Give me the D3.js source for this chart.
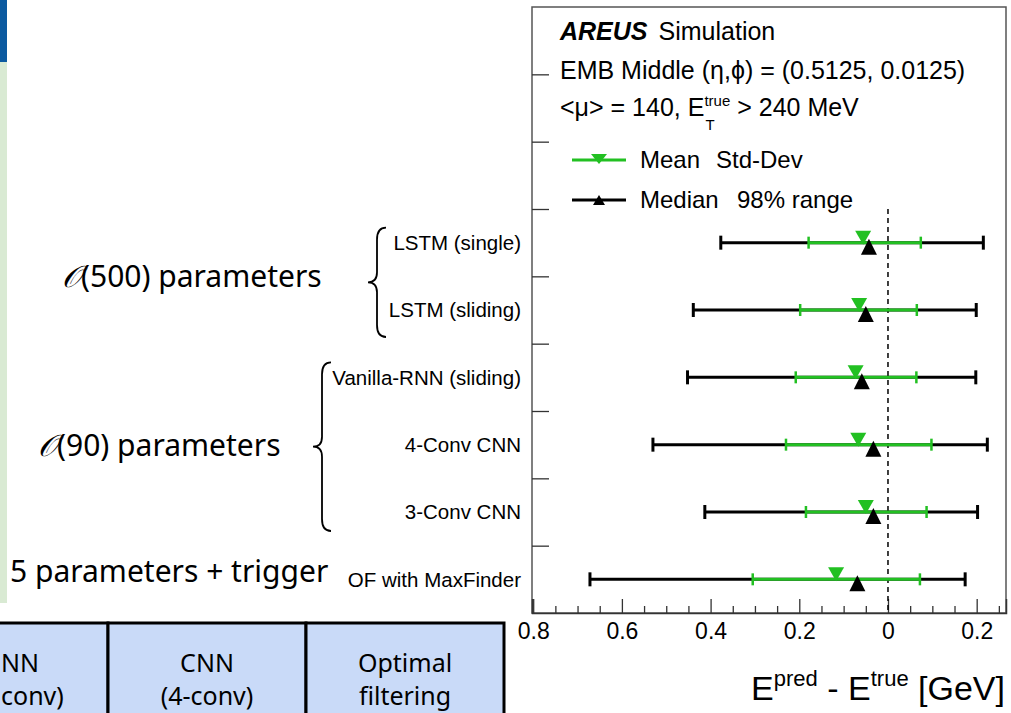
<!DOCTYPE html>
<html><head><meta charset="utf-8">
<script src="https://cdn.jsdelivr.net/npm/d3@7"></script>
<style>body{margin:0;background:#fff;}svg{display:block;}</style>
</head><body>
<script>
// ---- data ----
const categories = ["LSTM (single)", "LSTM (sliding)", "Vanilla-RNN (sliding)", "4-Conv CNN", "3-Conv CNN", "OF with MaxFinder"];
const meanVals   = [-0.056, -0.065, -0.073, -0.067, -0.050, -0.117];
const stdLow     = [-0.179, -0.198, -0.208, -0.230, -0.185, -0.305];
const stdHigh    = [ 0.074,  0.065,  0.064,  0.098,  0.087,  0.072];
const medianVals = [-0.043, -0.050, -0.059, -0.033, -0.033, -0.069];
const rangeLow   = [-0.377, -0.439, -0.452, -0.530, -0.413, -0.672];
const rangeHigh  = [ 0.215,  0.199,  0.198,  0.224,  0.202,  0.174];
const xTickValues = [-0.8, -0.6, -0.4, -0.2, 0, 0.2];
const xTickLabels = ["0.8", "0.6", "0.4", "0.2", "0", "0.2"];
const groupLabels = ["(500) parameters", "(90) parameters", "5 parameters + trigger"];
const tableCols = [["NN", "conv)"], ["CNN", "(4-conv)"], ["Optimal", "filtering"]];

const W = 1011, H = 713;
const svg = d3.select("body").append("svg").attr("width", W).attr("height", H);

// slide background pieces
svg.append("rect").attr("x", 0).attr("y", 0).attr("width", 7).attr("height", 62).attr("fill", "#0b5aa0");
svg.append("rect").attr("x", 0).attr("y", 62).attr("width", 7).attr("height", 541).attr("fill", "#d9ead3");

const L = 532, R = 1006, T = 7, B = 613;
const x = d3.scaleLinear().domain([-0.8027, 0.2661]).range([L, R]);
const y = d3.scaleLinear().domain([0, 9]).range([B, T]);
const rowY = i => y(5.5 - i);

const AR = "'Liberation Sans', Arial, sans-serif";
const SL = "'Noto Sans', 'Open Sans', sans-serif";
const green = "#22c022";

// frame
svg.append("rect").attr("x", L).attr("y", T).attr("width", R - L).attr("height", B - T)
  .attr("fill", "none").attr("stroke", "#555").attr("stroke-width", 1.5);

// y ticks (inward)
const yAxis = d3.axisLeft(y).tickValues(d3.range(1, 9)).tickSize(-17).tickFormat("");
const gy = svg.append("g").attr("transform", `translate(${L},0)`).call(yAxis);
gy.select(".domain").remove();
gy.selectAll("line").attr("stroke", "#333").attr("stroke-width", 1.3);

// x axis: minor + major ticks inward
const minorVals = d3.range(-16, 6).map(k => k * 0.05).filter(v => xTickValues.every(t => Math.abs(t - v) > 1e-6));
const gxm = svg.append("g").attr("transform", `translate(0,${B})`)
  .call(d3.axisBottom(x).tickValues(minorVals).tickSize(-7).tickFormat(""));
gxm.select(".domain").remove();
gxm.selectAll("line").attr("stroke", "#333").attr("stroke-width", 1.3);
const gx = svg.append("g").attr("transform", `translate(0,${B})`)
  .call(d3.axisBottom(x).tickValues(xTickValues).tickSize(-14).tickPadding(10)
    .tickFormat((d, i) => xTickLabels[i]));
gx.select(".domain").attr("stroke", "#333").attr("stroke-width", 1.5);
gx.selectAll("line").attr("stroke", "#333").attr("stroke-width", 1.3);
gx.selectAll("text").attr("font-family", AR).attr("font-size", 23).attr("fill", "#000");

// dashed zero line
svg.append("line").attr("x1", x(0)).attr("x2", x(0)).attr("y1", y(6)).attr("y2", B)
  .attr("stroke", "#000").attr("stroke-width", 1.5).attr("stroke-dasharray", "5,4");

// error bars
const rows = categories.map((c, i) => ({c, i}));
const g = svg.append("g");
rows.forEach(({i}) => {
  const yy = rowY(i);
  g.append("line").attr("x1", x(rangeLow[i])).attr("x2", x(rangeHigh[i])).attr("y1", yy).attr("y2", yy)
    .attr("stroke", "#000").attr("stroke-width", 3);
  [rangeLow[i], rangeHigh[i]].forEach(v => g.append("line").attr("x1", x(v)).attr("x2", x(v))
    .attr("y1", yy - 7).attr("y2", yy + 7).attr("stroke", "#000").attr("stroke-width", 3));
  g.append("line").attr("x1", x(stdLow[i])).attr("x2", x(stdHigh[i])).attr("y1", yy).attr("y2", yy)
    .attr("stroke", green).attr("stroke-width", 3);
  [stdLow[i], stdHigh[i]].forEach(v => g.append("line").attr("x1", x(v)).attr("x2", x(v))
    .attr("y1", yy - 6).attr("y2", yy + 6).attr("stroke", green).attr("stroke-width", 2.5));
  const mx = x(meanVals[i]);
  g.append("path").attr("d", `M${mx-8},${yy-12}L${mx+8},${yy-12}L${mx},${yy+2}Z`).attr("fill", green);
  const kx = x(medianVals[i]);
  g.append("path").attr("d", `M${kx-8},${yy+12}L${kx+8},${yy+12}L${kx},${yy-4}Z`).attr("fill", "#000");
});

// category labels
rows.forEach(({c, i}) => {
  svg.append("text").attr("x", 521).attr("y", rowY(i)).attr("dy", "0.35em")
    .attr("text-anchor", "end").attr("font-family", AR).attr("font-size", 20.5).text(c);
});

// header text
const HF = 25;
const t1 = svg.append("text").attr("x", 560).attr("y", 40).attr("font-family", AR).attr("font-size", HF);
t1.append("tspan").attr("font-weight", "bold").attr("font-style", "italic").text("AREUS");
t1.append("tspan").attr("dx", 11).text("Simulation");
svg.append("text").attr("x", 560).attr("y", 79).attr("font-family", AR).attr("font-size", HF)
  .text("EMB Middle (\u03b7,\u03d5) = (0.5125, 0.0125)");
const t3 = svg.append("text").attr("x", 560).attr("y", 116).attr("font-family", AR).attr("font-size", HF);
t3.append("tspan").text("<\u03bc> = 140, E");
t3.append("tspan").attr("font-size", 15).attr("dy", -10).text("true");
t3.append("tspan").attr("dy", 10).text(" > 240 MeV");
svg.append("text").attr("id", "subT").attr("font-family", AR).attr("font-size", 15).text("T");

// legend
const legend = [{label: "Mean", extra: "Std-Dev", ex: 716, color: green, down: true, y: 160},
                {label: "Median", extra: "98% range", ex: 737, color: "#000", down: false, y: 200}];
legend.forEach(d => {
  svg.append("line").attr("x1", 572).attr("x2", 626).attr("y1", d.y).attr("y2", d.y)
    .attr("stroke", d.color).attr("stroke-width", 3);
  const s = d.down ? `M591,${d.y-6}L607,${d.y-6}L599,${d.y+4}Z` : `M593,${d.y+5}L605,${d.y+5}L599,${d.y-5}Z`;
  svg.append("path").attr("d", s).attr("fill", d.color);
  svg.append("text").attr("x", 640).attr("y", d.y).attr("dy", "0.35em").attr("font-family", AR).attr("font-size", 24).text(d.label);
  svg.append("text").attr("x", d.ex).attr("y", d.y).attr("dy", "0.35em").attr("font-family", AR).attr("font-size", 24).text(d.extra);
});

// axis title
const at = svg.append("text").attr("x", 1005).attr("y", 700).attr("text-anchor", "end")
  .attr("font-family", AR).attr("font-size", 34);
at.append("tspan").text("E");
at.append("tspan").attr("font-size", 22).attr("dy", -14).text("pred");
at.append("tspan").attr("dy", 14).text(" - E");
at.append("tspan").attr("font-size", 22).attr("dy", -14).text("true");
at.append("tspan").attr("dy", 14).text(" [GeV]");

// braces
function brace(xr, y0, y1, w) {
  const ym = (y0 + y1) / 2, xm = xr - w / 2, xl = xr - w;
  return `M${xr},${y0} Q${xm},${y0} ${xm},${y0 + 12} L${xm},${ym - 10} Q${xm},${ym} ${xl},${ym}` +
         ` Q${xm},${ym} ${xm},${ym + 10} L${xm},${y1 - 12} Q${xm},${y1} ${xr},${y1}`;
}
svg.append("path").attr("d", brace(386, rowY(0) - 15, rowY(1) + 27, 18)).attr("fill", "none").attr("stroke", "#000").attr("stroke-width", 1.8);
svg.append("path").attr("d", brace(331, rowY(2) - 15, rowY(4) + 19, 18)).attr("fill", "none").attr("stroke", "#000").attr("stroke-width", 1.8);

// group labels
const GF = 30;
const g1 = svg.append("text").attr("x", 62).attr("y", (rowY(0) + rowY(1)) / 2 + 11).attr("font-family", SL).attr("font-size", GF);
g1.append("tspan").attr("font-family", "'DejaVu Serif', serif").attr("font-style", "italic").text("\uD835\uDCAA");
g1.append("tspan").text(groupLabels[0]);
const g2 = svg.append("text").attr("x", 38).attr("y", rowY(3) + 11).attr("font-family", SL).attr("font-size", GF);
g2.append("tspan").attr("font-family", "'DejaVu Serif', serif").attr("font-style", "italic").text("\uD835\uDCAA");
g2.append("tspan").text(groupLabels[1]);
svg.append("text").attr("x", 10).attr("y", rowY(5) + 3).attr("font-family", SL).attr("font-size", GF).text(groupLabels[2]);

// table
const colX = [-90, 108, 306];
tableCols.forEach((lines, j) => {
  svg.append("rect").attr("x", colX[j]).attr("y", 623).attr("width", 198).attr("height", 100)
    .attr("fill", "#c9daf8").attr("stroke", "#000").attr("stroke-width", 3);
  lines.forEach((s, k) => {
    const t = svg.append("text").attr("y", 672 + k * 33).attr("font-family", SL).attr("font-size", 25).text(s);
    if (j === 0) t.attr("x", 1).attr("text-anchor", "start");
    else t.attr("x", colX[j] + 99).attr("text-anchor", "middle");
  });
});

// position subscript T under "true" in third header line
const bb = t3.selectAll("tspan").nodes()[1].getBBox();
d3.select("#subT").attr("x", bb.x + 1).attr("y", 130);
</script>
</body></html>
